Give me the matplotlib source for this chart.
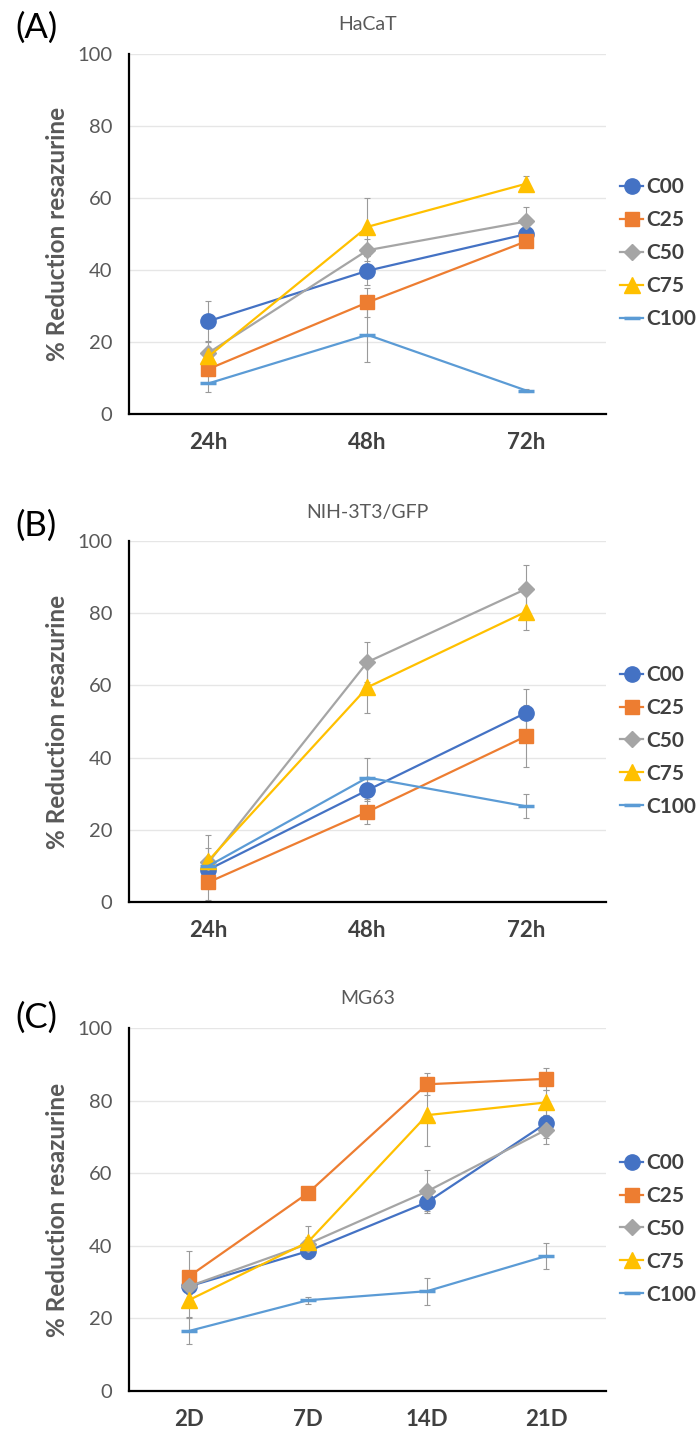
import matplotlib
matplotlib.use("Agg")
import matplotlib.pyplot as plt

plt.rcParams["font.family"] = ["Lato", "DejaVu Sans"]

series_names = ["C00", "C25", "C50", "C75", "C100"]
colors = ["#4472C4", "#ED7D31", "#A5A5A5", "#FFC000", "#5B9BD5"]
markers = ["o", "s", "D", "^", "_"]
marker_sizes = [11, 10, 8, 11, 11]

# (A) HaCaT
hacat_labels = ["24h", "48h", "72h"]
hacat_values = [
    [25.8, 39.8, 50.0],
    [12.5, 31.0, 48.0],
    [17.0, 45.5, 53.5],
    [16.0, 52.0, 64.0],
    [8.5, 22.0, 6.5],
]
hacat_errors = [
    [5.5, 4.0, 1.5],
    [2.0, 4.0, 1.5],
    [3.0, 3.0, 4.0],
    [2.0, 8.0, 2.0],
    [2.5, 7.5, 0.5],
]

# (B) NIH-3T3/GFP
nih_labels = ["24h", "48h", "72h"]
nih_values = [
    [9.0, 31.0, 52.5],
    [5.5, 25.0, 46.0],
    [11.0, 66.5, 86.8],
    [11.5, 59.5, 80.5],
    [10.0, 34.5, 26.5],
]
nih_errors = [
    [3.0, 3.0, 6.5],
    [5.0, 3.5, 8.5],
    [7.5, 5.5, 6.5],
    [3.5, 7.0, 5.0],
    [2.0, 5.5, 3.3],
]

# (C) MG63
mg63_labels = ["2D", "7D", "14D", "21D"]
mg63_values = [
    [28.8, 38.5, 52.0, 73.8],
    [31.5, 54.5, 84.5, 86.0],
    [28.8, 40.5, 55.0, 72.0],
    [25.0, 41.0, 76.0, 79.5],
    [16.5, 25.0, 27.5, 37.2],
]
mg63_errors = [
    [2.0, 1.5, 2.5, 4.0],
    [7.0, 1.0, 3.0, 3.0],
    [2.0, 2.0, 6.0, 4.0],
    [4.5, 4.5, 8.5, 3.5],
    [3.5, 1.0, 3.7, 3.5],
]

panels = [
    ("(A)", "HaCaT", hacat_labels, hacat_values, hacat_errors, [0.1845, 0.7121, 0.6824, 0.2503], 28),
    ("(B)", "NIH-3T3/GFP", nih_labels, nih_values, nih_errors, [0.1845, 0.3727, 0.6824, 0.2510], 526),
    ("(C)", "MG63", mg63_labels, mg63_values, mg63_errors, [0.1845, 0.0327, 0.6824, 0.2524], 1018),
]

fig = plt.figure(figsize=(6.99, 14.38), dpi=100)
fig.patch.set_facecolor("white")

for tag, title, labels, values, errors, rect, tag_y in panels:
    ax = fig.add_axes(rect)
    x = list(range(len(labels)))
    for name, vals, errs, col, mk, ms in zip(series_names, values, errors, colors, markers, marker_sizes):
        ax.errorbar(x, vals, yerr=errs, fmt="none", ecolor="#9a9a9a",
                    elinewidth=0.8, capsize=2, capthick=0.8, zorder=2)
        ax.plot(x, vals, color=col, lw=1.6, marker=mk, markersize=ms,
                markerfacecolor=col, markeredgecolor=col,
                markeredgewidth=2.5 if mk == "_" else 1, label=name, zorder=3)

    ax.set_xlim(-0.5, len(labels) - 0.5)
    ax.set_ylim(0, 100)
    ax.set_yticks([0, 20, 40, 60, 80, 100])
    ax.set_xticks(x)
    ax.set_xticklabels(labels, fontsize=16, fontweight="bold", color="#404040")
    ax.tick_params(axis="y", length=0, pad=12, labelsize=14.5, labelcolor="#595959")
    ax.tick_params(axis="x", length=0, pad=13)
    ax.grid(axis="y", color="#e6e6e6", lw=1)
    ax.set_axisbelow(True)
    ax.spines[["top", "right"]].set_visible(False)
    ax.spines["left"].set_linewidth(1.6)
    ax.spines["bottom"].set_linewidth(1.6)
    ax.spines["left"].set_color("black")
    ax.spines["bottom"].set_color("black")

    ax.set_ylabel("% Reduction resazurine", fontsize=17.5, fontweight="bold", color="#595959")
    ax.yaxis.set_label_coords(-0.125, 0.5)
    ax.set_title(title, fontsize=14, color="#595959", pad=17)

    leg = ax.legend(loc="center left", bbox_to_anchor=(1.03, 0.447), frameon=False,
                    borderaxespad=0, borderpad=0, handlelength=1.1, handletextpad=0.15,
                    labelspacing=0.62, prop={"weight": "bold", "size": 15})
    for t in leg.get_texts():
        t.set_color("#404040")

    fig.text(15 / 699, 1 - tag_y / 1438, tag, fontsize=25, va="center", ha="left", color="black")

fig.savefig("out.png", dpi=100)
